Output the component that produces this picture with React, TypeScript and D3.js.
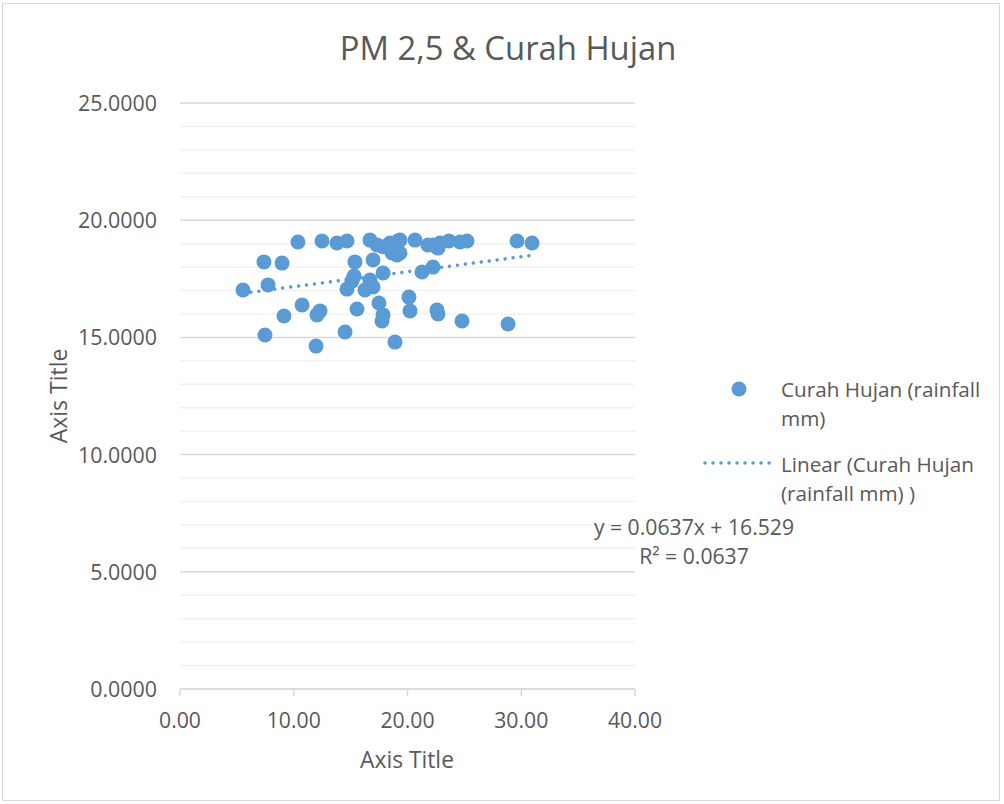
import React from 'react';
import * as d3 from 'd3';

// rainfall (mm) vs PM 2,5 readings
const rainfall = [
  5.54, 7.38, 8.97, 7.74, 7.47, 9.14, 10.37, 10.73, 11.96, 12.04, 12.31, 12.48,
  13.8, 14.68, 14.51, 14.68, 15.12, 15.38, 15.3, 15.56, 16.7, 17.32, 16.97, 16.7,
  16.97, 16.26, 17.85, 18.46, 19.16, 18.64, 19.08, 20.66, 17.49, 17.85, 17.76,
  18.9, 20.13, 20.22, 21.27, 22.24, 19.34, 19.34, 21.8, 22.24, 22.86, 23.65,
  24.62, 25.23, 29.63, 30.95, 22.59, 22.68, 24.79, 28.84, 17.85, 22.68,
];
const pm25 = [
  17.02, 18.22, 18.17, 17.24, 15.1, 15.91, 19.07, 16.38, 14.63, 15.96, 16.13, 19.11,
  19.03, 19.11, 15.23, 17.06, 17.41, 18.22, 17.62, 16.21, 19.15, 18.94, 18.3, 17.45,
  17.15, 17.02, 17.75, 19.03, 19.11, 18.6, 18.52, 19.15, 16.47, 15.96, 15.7,
  14.8, 16.72, 16.13, 17.79, 18.0, 19.15, 18.6, 18.94, 18.94, 19.03, 19.11,
  19.07, 19.11, 19.11, 19.03, 16.17, 16.0, 15.7, 15.57, 18.87, 18.81,
];

const xTicks = [0, 10, 20, 30, 40];
const yTicks = [0, 5, 10, 15, 20, 25];
const slope = 0.0637;
const intercept = 16.529;

const title = 'PM 2,5 & Curah Hujan';
const seriesName = ['Curah Hujan (rainfall', 'mm)'];
const trendName = ['Linear (Curah Hujan', '(rainfall mm) )'];

const BLUE = '#5b9bd5';
const TEXT = '#595959';
const FONT = '"Open Sans", "Noto Sans", sans-serif';

export default function App() {
  const x = d3.scaleLinear().domain([0, 40]).range([180, 635]);
  const y = d3.scaleLinear().domain([0, 25]).range([689, 103]);

  const points = rainfall.map((r, i) => ({ r, p: pm25[i] }));
  const [xMin, xMax] = d3.extent(rainfall) as [number, number];
  const trend = d3
    .line<number>()
    .x((d) => x(d))
    .y((d) => y(slope * d + intercept));

  // minor gridlines every 1 unit
  const minor = d3.range(0, 26).filter((v) => v % 5 !== 0);

  return (
    <>
      <style>{'body{margin:0}'}</style>
      <svg width={1004} height={804} style={{ display: 'block', fontFamily: FONT }}>
        <rect x={0} y={0} width={1004} height={804} fill="#fff" />
        <rect x={2.5} y={3.5} width={997} height={797} fill="none" stroke="#d9d9d9" />

        <text x={508} y={60} textAnchor="middle" fontSize={32.8} fill={TEXT}>
          {title}
        </text>

        {minor.map((v) => (
          <line key={'m' + v} x1={180} x2={635} y1={y(v)} y2={y(v)} stroke="#f2f2f2" strokeWidth={1.5} />
        ))}
        {yTicks.map((v) => (
          <line key={'g' + v} x1={180} x2={635} y1={y(v)} y2={y(v)} stroke="#d9d9d9" strokeWidth={1.5} />
        ))}
        {yTicks.map((v) => (
          <text key={'yt' + v} x={157} y={y(v) + 8} textAnchor="end" fontSize={21.4} fill={TEXT}>
            {v.toFixed(4)}
          </text>
        ))}

        <line x1={180} x2={635} y1={689} y2={689} stroke="#d9d9d9" strokeWidth={1.5} />
        {xTicks.map((v) => (
          <g key={'xt' + v}>
            <line x1={x(v)} x2={x(v)} y1={689} y2={696} stroke="#d9d9d9" strokeWidth={1.5} />
            <text x={x(v)} y={728} textAnchor="middle" fontSize={21.2} fill={TEXT}>
              {v.toFixed(2)}
            </text>
          </g>
        ))}

        <text x={407} y={768} textAnchor="middle" fontSize={22.8} fill={TEXT}>
          Axis Title
        </text>
        <text transform="translate(67,396) rotate(-90)" textAnchor="middle" fontSize={23} fill={TEXT}>
          Axis Title
        </text>

        {points.map((d, i) => (
          <circle key={i} cx={x(d.r)} cy={y(d.p)} r={7.5} fill={BLUE} />
        ))}

        <path
          d={trend([xMin, xMax]) || ''}
          fill="none"
          stroke={BLUE}
          strokeWidth={3.5}
          strokeLinecap="round"
          strokeDasharray="0.01 8"
        />

        {/* legend */}
        <circle cx={739} cy={389} r={7.5} fill={BLUE} />
        {seriesName.map((s, i) => (
          <text key={'s' + i} x={781} y={397 + i * 29} fontSize={20.7} fill={TEXT}>
            {s}
          </text>
        ))}
        <line x1={705} x2={773} y1={463} y2={463} stroke={BLUE} strokeWidth={3.5} strokeLinecap="round" strokeDasharray="0.01 8" />
        {trendName.map((s, i) => (
          <text key={'t' + i} x={781} y={472 + i * 29} fontSize={20.7} fill={TEXT}>
            {s}
          </text>
        ))}

        <text x={694} y={535} textAnchor="middle" fontSize={21.2} fill={TEXT}>
          {`y = ${slope}x + ${intercept}`}
        </text>
        <text x={694} y={564} textAnchor="middle" fontSize={21.2} fill={TEXT}>
          {`R² = ${slope}`}
        </text>
      </svg>
    </>
  );
}
